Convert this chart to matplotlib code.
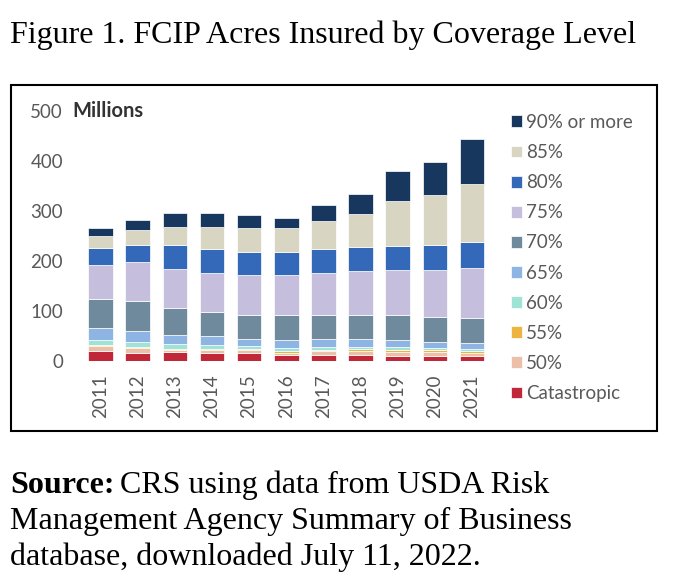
import matplotlib.pyplot as plt
from matplotlib.patches import Rectangle
import numpy as np

# data (millions of acres)
years = ["2011", "2012", "2013", "2014", "2015", "2016", "2017", "2018", "2019", "2020", "2021"]
cat = [20, 16, 18, 16, 16, 11, 12, 12, 10, 9, 9]
p50 = [10, 10, 4, 5, 5, 5, 7, 8, 8, 8, 7]
p55 = [2, 2, 2, 3, 2, 3, 2, 3, 3, 4, 4]
p60 = [9, 10, 10, 7, 7, 7, 7, 5, 7, 5, 4]
p65 = [25, 22, 17, 19, 14, 16, 15, 15, 13, 12, 11]
p70 = [57, 59, 55, 48, 48, 49, 49, 49, 50, 50, 50]
p75 = [68, 79, 78, 78, 79, 80, 84, 88, 90, 94, 100]
p80 = [35, 34, 47, 47, 47, 47, 47, 48, 49, 50, 52]
p85 = [24, 30, 37, 45, 48, 48, 56, 66, 89, 100, 116]
p90 = [16, 19, 28, 28, 25, 20, 33, 40, 60, 66, 90]

labels = ["Catastropic", "50%", "55%", "60%", "65%", "70%", "75%", "80%", "85%", "90% or more"]
series = [cat, p50, p55, p60, p65, p70, p75, p80, p85, p90]
colors = ["#C0283A", "#EBBFA8", "#EDB540", "#9EE3D6", "#8EB4E3",
          "#6F8A9C", "#C5BFDD", "#3468B8", "#D8D6C2", "#17375E"]

W, H = 678, 584
fig = plt.figure(figsize=(W / 100, H / 100), dpi=100)
fig.patch.set_facecolor("white")

def fx(px):
    return px / W

def fy(py):
    return 1 - py / H

# axes placed so bar centres and the 0..500 scale sit where the reference has them
ax_l, ax_r, ax_t, ax_b = 70, 500, 110.5, 360.5
ax = fig.add_axes([fx(ax_l), fy(ax_b), fx(ax_r - ax_l), (ax_b - ax_t) / H])
c0, step = 100.5, 37.15
ax.set_xlim((ax_l - c0) / step, (ax_r - c0) / step)
ax.set_ylim(0, 500)

x = np.arange(len(years))
bottom = np.zeros(len(years))
handles = []
for vals, lab, col in zip(series, labels, colors):
    b = ax.bar(x, vals, width=0.66, bottom=bottom, color=col, label=lab,
               edgecolor="white", linewidth=0.5)
    handles.append(b)
    bottom += np.array(vals)

for s in ax.spines.values():
    s.set_visible(False)
ax.set_yticks([0, 100, 200, 300, 400, 500])
ax.set_xticks(x)
ax.set_xticklabels(years, rotation=90)
ax.tick_params(length=0, labelsize=13.5, labelcolor="#595959")
ax.tick_params(axis="y", pad=5)
ax.tick_params(axis="x", pad=10)
for t in ax.get_xticklabels() + ax.get_yticklabels():
    t.set_family("Lato")

fig.text(fx(72), fy(111), "Millions", fontsize=14.5, fontweight="bold",
         family="Lato", color="#333333", va="center", ha="left")

leg = fig.legend(handles[::-1], labels[::-1], loc="upper left",
                 bbox_to_anchor=(fx(511), fy(114)), frameon=False,
                 borderpad=0, borderaxespad=0,
                 handlelength=0.59, handleheight=0.59, handletextpad=0.22,
                 labelspacing=0.70, prop={"family": "Lato", "size": 13.5})
for t in leg.get_texts():
    t.set_color("#595959")

# frame around the chart
fig.patches.append(Rectangle((fx(11), fy(431)), fx(646), (431 - 85) / H,
                             transform=fig.transFigure, fill=False,
                             edgecolor="black", linewidth=1.5))

fig.text(fx(10), fy(43), "Figure 1. FCIP Acres Insured by Coverage Level",
         fontsize=23, family="Liberation Serif", va="baseline", ha="left")

src_lines = ["CRS using data from USDA Risk",
             "Management Agency Summary of Business",
             "database, downloaded July 11, 2022."]
t0 = fig.text(fx(10), fy(493), "Source:", fontsize=23, family="Liberation Serif",
              fontweight="bold", va="baseline", ha="left")
fig.canvas.draw()
bb = t0.get_window_extent()
fig.text(bb.x1 / W + fx(6), fy(493), src_lines[0], fontsize=23,
         family="Liberation Serif", va="baseline", ha="left")
fig.text(fx(10), fy(529), src_lines[1], fontsize=23,
         family="Liberation Serif", va="baseline", ha="left")
fig.text(fx(10), fy(565), src_lines[2], fontsize=23,
         family="Liberation Serif", va="baseline", ha="left")

fig.savefig("out.png", dpi=100)
